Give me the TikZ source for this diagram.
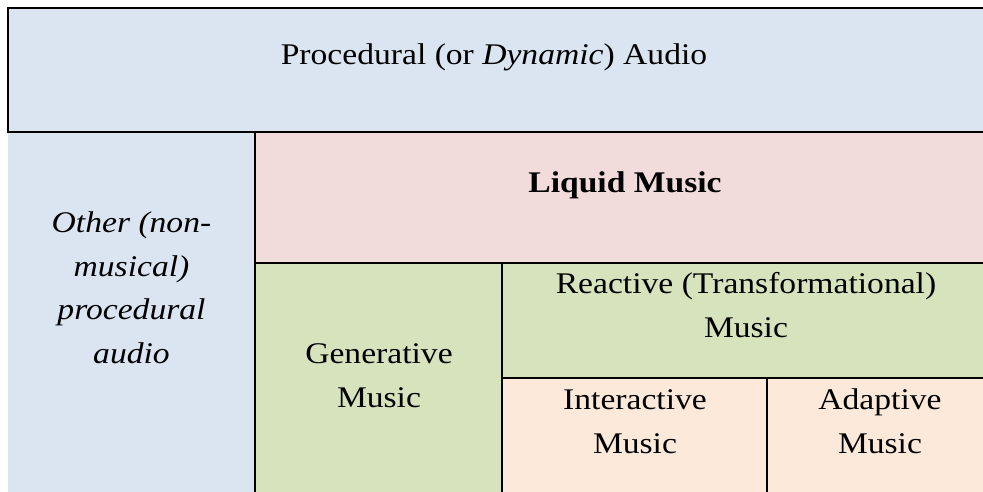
\documentclass[tikz,border=0pt]{standalone}
\usepackage{fontspec}
\setmainfont{Liberation Serif}[FakeStretch=1.12]
\definecolor{cblue}{HTML}{DBE5F1}
\definecolor{cpink}{HTML}{F2DCDB}
\definecolor{cgreen}{HTML}{D7E3BC}
\definecolor{cpeach}{HTML}{FDE9D9}
\begin{document}
\begin{tikzpicture}[x=1pt,y=-1pt,
  cell/.style={draw=none,inner sep=0pt,outer sep=0pt,anchor=north west},
  txt/.style={anchor=base,align=center,inner sep=0pt,font=\fontsize{30}{43.5}\selectfont},
  rule/.style={line width=1.8pt,line cap=rect}]
\useasboundingbox (0,0) rectangle (983,492);
\fill[white] (0,0) rectangle (983,492);
% cells
\node[cell,fill=cblue,minimum width=975pt,minimum height=124pt] (top) at (8,8) {};
\node[cell,fill=cblue,minimum width=247pt,minimum height=360pt] (other) at (8,132) {};
\node[cell,fill=cpink,minimum width=728pt,minimum height=131pt] (liquid) at (255,132) {};
\node[cell,fill=cgreen,minimum width=247pt,minimum height=229pt] (gen) at (255,263) {};
\node[cell,fill=cgreen,minimum width=481pt,minimum height=115pt] (react) at (502,263) {};
\node[cell,fill=cpeach,minimum width=265pt,minimum height=114pt] (inter) at (502,378) {};
\node[cell,fill=cpeach,minimum width=216pt,minimum height=114pt] (adapt) at (767,378) {};
% rules
\draw[rule] (top.south west) |- (top.north east);
\draw[rule] (top.south west) -- (top.south east);
\draw[rule] (other.north east) -- (other.south east);
\draw[rule] (liquid.south west) -- (liquid.south east);
\draw[rule] (gen.north east) -- (gen.south east);
\draw[rule] (react.south west) -- (react.south east);
\draw[rule] (inter.north east) -- (inter.south east);
% texts (base = baseline of last line)
\node[txt] (ttop) at (494,65) {Procedural (or \textit{Dynamic}) Audio};
\node[txt] (tother) at (131.5,363) {\itshape Other (non-\\\itshape musical)\\\itshape procedural\\\itshape audio};
\node[txt] (tliquid) at (625,193) {\bfseries Liquid Music};
\node[txt] (tgen) at (379,407) {Generative\\Music};
\node[txt] (treact) at (746,337) {Reactive (Transformational)\\Music};
\node[txt] (tinter) at (635,453) {Interactive\\Music};
\node[txt] (tadapt) at (880,453) {Adaptive\\Music};
\end{tikzpicture}
\end{document}
